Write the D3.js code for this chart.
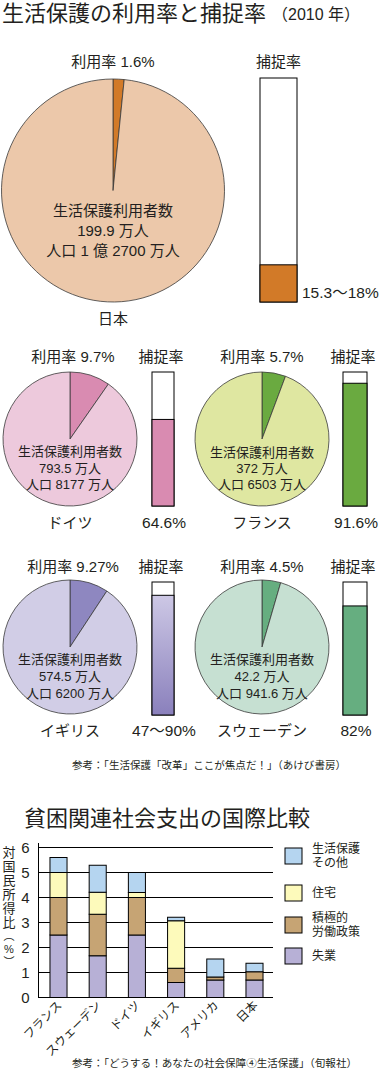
<!DOCTYPE html>
<html><head><meta charset="utf-8">
<script src="https://cdn.jsdelivr.net/npm/d3@7"></script>
<style>
body{margin:0;background:#fff}
svg{display:block}
text{font-family:"Liberation Sans","Noto Sans CJK JP",sans-serif;fill:#231f20}
</style>
</head><body><svg id="c" width="381" height="1072"></svg>
<script>
// ---------- data: usage / capture rates ----------
const countries = ["日本","ドイツ","フランス","イギリス","スウェーデン"];
const usageRates = [1.6, 9.7, 5.7, 9.27, 4.5];
const usageLabels = ["1.6%","9.7%","5.7%","9.27%","4.5%"];
const captureFill = [16.6, 64.6, 91.6, 90, 82];
const captureLabels = ["15.3〜18%","64.6%","91.6%","47〜90%","82%"];
const recipients = ["199.9 万人","793.5 万人","372 万人","574.5 万人","42.2 万人"];
const populations = ["人口 1 億 2700 万人","人口 8177 万人","人口 6503 万人","人口 6200 万人","人口 941.6 万人"];

// ---------- data: social spending (% of national income) ----------
const spendCountries = ["フランス","スウェーデン","ドイツ","イギリス","アメリカ","日本"];
const unemployment   = [2.5, 1.67, 2.5, 0.6, 0.7, 0.7];
const activeLabour   = [1.5, 1.66, 1.5, 0.57, 0.12, 0.33];
const housing        = [1.0, 0.88, 0.2, 1.9, 0, 0];
const assistOther    = [0.6, 1.08, 0.8, 0.14, 0.72, 0.34];
const seriesKeys = ["unemp","active","housing","other"];
const legendLabels = [["生活保護","その他"],["住宅"],["積極的","労働政策"],["失業"]];
const yTicks = [0,1,2,3,4,5,6];

const svg = d3.select("#c");

// ---------- titles ----------
svg.append("text").attr("x",2).attr("y",21).attr("font-size",22).text("生活保護の利用率と捕捉率");
svg.append("text").attr("x",272).attr("y",20).attr("font-size",16).text("（2010 年）");

// ---------- pies ----------
const pal = [
  {light:"#ecc8aa", dark:"#d27a28"},
  {light:"#edc9dc", dark:"#d98bb1"},
  {light:"#dfe7a1", dark:"#6aaa40"},
  {light:"#d1cde6", dark:"#8e87c0"},
  {light:"#c6e0d2", dark:"#66ae80"}
];
const layout = [
  {cx:113, cy:190.5, r:111.5, hx:113, hy:61, ny:318, bx:260, by:78, bw:37, bh:224, fs:15, dy:[20,40,60], capX:302, capY:292, capAnchor:"start"},
  {cx:70, cy:439, r:67, hx:73, hy:356, ny:522, bx:152, by:372, bw:22, bh:134, fs:13, dy:[12,29,45], capY:522, capAnchor:"middle"},
  {cx:262, cy:439, r:67, hx:262, hy:356, ny:522, bx:343, by:372, bw:24, bh:134, fs:13, dy:[13,29,45], capY:522, capAnchor:"middle"},
  {cx:70, cy:647, r:67, hx:73, hy:566, ny:730, bx:152, by:582, bw:22, bh:133, fs:13, dy:[12,29,46], capY:730, capAnchor:"middle"},
  {cx:262, cy:647, r:67, hx:262, hy:566, ny:730, bx:343, by:582, bw:24, bh:133, fs:13, dy:[12,29,46], capY:730, capAnchor:"middle"}
];

const defs = svg.append("defs");
const grad = defs.append("linearGradient").attr("id","ukgrad").attr("x1",0).attr("y1",0).attr("x2",0).attr("y2",1);
grad.append("stop").attr("offset","0%").attr("stop-color","#cdc8e5");
grad.append("stop").attr("offset","100%").attr("stop-color","#8a80bc");

const pie = d3.pie().sort(null).value(d=>d);
countries.forEach((name,i)=>{
  const L = layout[i], P = pal[i];
  const g = svg.append("g");
  const arcs = pie([usageRates[i], 100-usageRates[i]]);
  const arc = d3.arc().innerRadius(0).outerRadius(L.r);
  g.selectAll("path.sl").data(arcs).join("path")
    .attr("transform",`translate(${L.cx},${L.cy})`)
    .attr("d",arc)
    .attr("fill",(d,j)=> j===0 ? P.dark : P.light)
    .attr("stroke","#3a3a3a").attr("stroke-width",0.8);
  g.append("text").attr("x",L.hx).attr("y",L.hy).attr("text-anchor","middle")
    .attr("dominant-baseline","central").attr("font-size",15)
    .text("利用率 " + usageLabels[i]);
  [ "生活保護利用者数", recipients[i], populations[i] ].forEach((t,k)=>{
    g.append("text").attr("x",L.cx).attr("y",L.cy+L.dy[k]).attr("text-anchor","middle")
      .attr("dominant-baseline","central").attr("font-size",L.fs).text(t);
  });
  g.append("text").attr("x",L.cx).attr("y",L.ny).attr("text-anchor","middle")
    .attr("dominant-baseline","central").attr("font-size",15).text(name);

  const ys = d3.scaleLinear().domain([0,100]).range([L.by+L.bh, L.by]);
  g.append("text").attr("x",L.bx+L.bw/2 - (i===0?0:2)).attr("y",L.hy).attr("text-anchor","middle")
    .attr("dominant-baseline","central").attr("font-size",15).text("捕捉率");
  g.append("rect").attr("x",L.bx).attr("y",ys(100)).attr("width",L.bw).attr("height",ys(0)-ys(100))
    .attr("fill","#fff").attr("stroke","#000").attr("stroke-width",1);
  g.append("rect").attr("x",L.bx).attr("y",ys(captureFill[i])).attr("width",L.bw)
    .attr("height",ys(0)-ys(captureFill[i]))
    .attr("fill", i===3 ? "url(#ukgrad)" : P.dark)
    .attr("stroke","#000").attr("stroke-width",1);
  g.append("text")
    .attr("x", L.capAnchor==="start" ? L.capX : L.bx+L.bw/2+1)
    .attr("y",L.capY).attr("text-anchor",L.capAnchor)
    .attr("dominant-baseline","central").attr("font-size",15.5).text(captureLabels[i]);
});

svg.append("text").attr("x",72).attr("y",765).attr("dominant-baseline","central")
  .attr("font-size",10.5).attr("textLength",274).attr("lengthAdjust","spacingAndGlyphs")
  .text("参考：「生活保護「改革」ここが焦点だ！」（あけび書房）");

// ---------- second chart ----------
svg.append("text").attr("x",24).attr("y",826).attr("font-size",22).text("貧困関連社会支出の国際比較");

const rows = spendCountries.map((c,i)=>({country:c, unemp:unemployment[i], active:activeLabour[i], housing:housing[i], other:assistOther[i]}));
const stack = d3.stack().keys(seriesKeys)(rows);
const colors = {unemp:"#b7b0d6", active:"#c6a474", housing:"#fdfabb", other:"#b5d5f0"};

const x = d3.scaleBand().domain(spendCountries).range([39,274]).paddingInner(0.565).paddingOuter(0.28);
const y = d3.scaleLinear().domain([0,6]).range([997.5,847.5]);

svg.append("g").selectAll("line").data(yTicks).join("line")
  .attr("x1",38).attr("x2",273).attr("y1",d=>y(d)).attr("y2",d=>y(d))
  .attr("stroke","#000").attr("stroke-width",1);
svg.append("line").attr("x1",38.5).attr("x2",38.5).attr("y1",843).attr("y2",y(0)).attr("stroke","#000");
svg.append("g").selectAll("text").data(yTicks).join("text")
  .attr("x",25.5).attr("y",d=>y(d)).attr("text-anchor","middle").attr("dominant-baseline","central")
  .attr("font-size",15).text(d=>d);

svg.append("g").selectAll("g").data(stack).join("g")
  .attr("fill",d=>colors[d.key])
  .selectAll("rect").data(d=>d.filter(s=>s[1]-s[0]>0)).join("rect")
  .attr("x",d=>x(d.data.country)).attr("width",x.bandwidth())
  .attr("y",d=>y(d[1])).attr("height",d=>y(d[0])-y(d[1]))
  .attr("stroke","#000").attr("stroke-width",1);

svg.append("g").selectAll("text").data(spendCountries).join("text")
  .attr("transform",d=>`translate(${x(d)+x.bandwidth()/2+4},1006) rotate(-45)`)
  .attr("text-anchor","end").attr("font-size",12).text(d=>d);

// y label (vertical)
const yLabelChars = ["対","国","民","所","得","比","︵","%","︶"];
const yLabelPos = [852,866,880,894.5,908.5,922.5,936,949,962];
svg.append("g").selectAll("text").data(yLabelChars).join("text")
  .attr("x",9).attr("y",(d,i)=>yLabelPos[i]).attr("text-anchor","middle").attr("dominant-baseline","central")
  .attr("font-size",(d,i)=> i<6 ? 13 : 11).text(d=>d);

// legend
const legendOrder = ["other","housing","active","unemp"];
const legendY = [848,885,917,948];
const lg = svg.append("g");
legendOrder.forEach((k,i)=>{
  lg.append("rect").attr("x",285).attr("y",legendY[i]).attr("width",17).attr("height",16)
    .attr("fill",colors[k]).attr("stroke","#000").attr("stroke-width",1);
  const lines = legendLabels[i];
  const startY = lines.length===2 ? legendY[i]+1 : legendY[i]+8;
  lines.forEach((t,j)=>{
    lg.append("text").attr("x",312).attr("y",startY + j*14).attr("dominant-baseline","central")
      .attr("font-size",12).text(t);
  });
});

svg.append("text").attr("x",72).attr("y",1063).attr("dominant-baseline","central")
  .attr("font-size",10.5).attr("textLength",285).attr("lengthAdjust","spacingAndGlyphs")
  .text("参考：「どうする！あなたの社会保障④生活保護」（旬報社）");
</script>
</body></html>
